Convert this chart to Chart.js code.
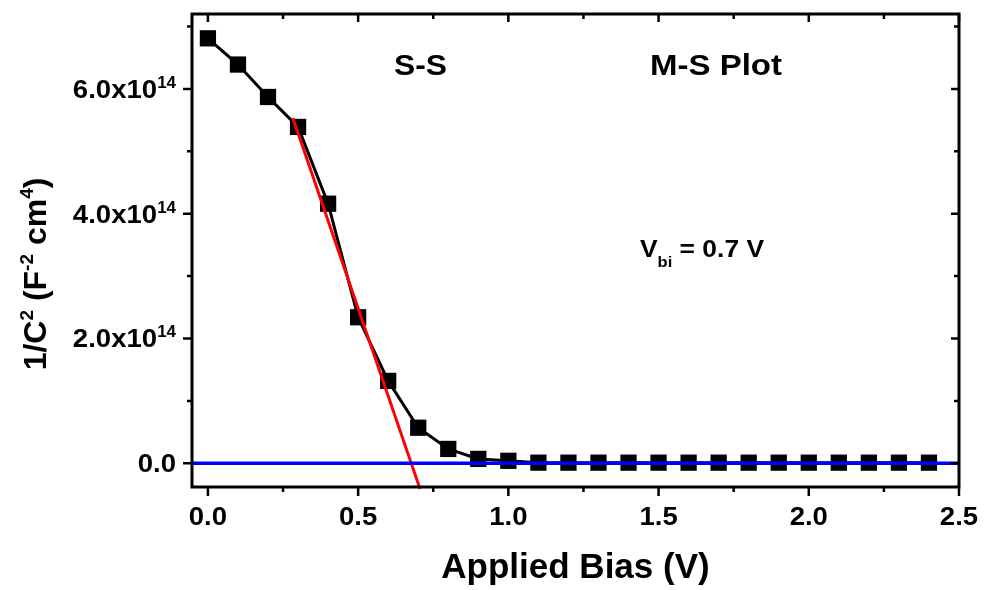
<!DOCTYPE html>
<html>
<head>
<meta charset="utf-8">
<script src="https://cdn.jsdelivr.net/npm/chart.js@4.4.1/dist/chart.umd.min.js"></script>
<style>
body{margin:0;background:#fff}
</style>
</head>
<body>
<canvas id="myChart" width="985" height="590"></canvas>
<script>
// applied bias (V) and 1/C^2 (F^-2 cm^4)
var bias=[0,0.1,0.2,0.3,0.4,0.5,0.6,0.7,0.8,0.9,1.0,1.1,1.2,1.3,1.4,1.5,1.6,1.7,1.8,1.9,2.0,2.1,2.2,2.3,2.4]
var invC2=[6.81e14,6.39e14,5.87e14,5.39e14,4.16e14,2.34e14,1.32e14,0.57e14,0.23e14,0.07e14,0.04e14,0.01e14,0.01e14,0.01e14,0.01e14,0.01e14,0.01e14,0.01e14,0.01e14,0.01e14,0.01e14,0.01e14,0.01e14,0.01e14,0.01e14]

// linear fit (red) and zero line (blue)
var fitX=[0.283,0.706]
var fitY=[5.53e14,-0.41e14]
var zeroX=[-0.053,2.5]
var zeroY=[0,0]

// axes
var xMin=-0.053, xMax=2.5
var yMin=-0.38e14, yMax=7.2e14
var xMajor=[0,0.5,1.0,1.5,2.0,2.5]
var xMinor=[0.25,0.75,1.25,1.75,2.25]
var xTickLabels=['0.0','0.5','1.0','1.5','2.0','2.5']
var yMajor=[0,2e14,4e14,6e14]
var yMinor=[1e14,3e14,5e14,7e14]
var yTickLabels=['0.0','2.0x10','4.0x10','6.0x10']
var yTickExp=['','14','14','14']

function pts(xs,ys){
    var out=[]
    for(var i=0;i<xs.length;i++) out.push({x:xs[i],y:ys[i]})
    return out
}

function fnt(s){ return 'bold '+s+'px "Liberation Sans", Arial, sans-serif' }

// parts: [text, size, dy]
function richWidth(ctx,parts,st){
    var w=0
    parts.forEach(function(p){ ctx.font=fnt(p[1]); w+=ctx.measureText(p[0]).width*st })
    return w
}
function drawRich(ctx,parts,x,y,align,st,rot){
    st=st||1
    ctx.save()
    ctx.translate(x,y)
    if(rot) ctx.rotate(rot)
    var w=richWidth(ctx,parts,st)
    var cx=0
    if(align=='center') cx=-w/2
    if(align=='right') cx=-w
    ctx.fillStyle='#000'
    ctx.textBaseline='alphabetic'
    ctx.textAlign='left'
    parts.forEach(function(p){
        ctx.font=fnt(p[1])
        ctx.save()
        ctx.translate(cx,p[2]||0)
        ctx.scale(st,1)
        ctx.fillText(p[0],0,0)
        ctx.restore()
        cx+=ctx.measureText(p[0]).width*st
    })
    ctx.restore()
}

var framePlugin={
    id:'frame',
    afterDatasetsDraw:function(chart){
        var ctx=chart.ctx, a=chart.chartArea
        var xs=chart.scales.x, ys=chart.scales.y
        ctx.save()
        ctx.strokeStyle='#000'
        ctx.lineWidth=3
        ctx.strokeRect(a.left,a.top,a.right-a.left,a.bottom-a.top)
        ctx.lineWidth=2.5
        ctx.beginPath()
        xMajor.forEach(function(v){
            var px=xs.getPixelForValue(v)
            ctx.moveTo(px,a.bottom); ctx.lineTo(px,a.bottom+9)
            ctx.moveTo(px,a.top); ctx.lineTo(px,a.top+8)
        })
        xMinor.forEach(function(v){
            var px=xs.getPixelForValue(v)
            ctx.moveTo(px,a.bottom); ctx.lineTo(px,a.bottom+5)
            ctx.moveTo(px,a.top); ctx.lineTo(px,a.top+5)
        })
        yMajor.forEach(function(v){
            var py=ys.getPixelForValue(v)
            ctx.moveTo(a.left,py); ctx.lineTo(a.left-9,py)
            ctx.moveTo(a.right,py); ctx.lineTo(a.right-8,py)
        })
        yMinor.forEach(function(v){
            var py=ys.getPixelForValue(v)
            ctx.moveTo(a.left,py); ctx.lineTo(a.left-5,py)
            ctx.moveTo(a.right,py); ctx.lineTo(a.right-5,py)
        })
        ctx.stroke()
        ctx.restore()
    },
    afterDraw:function(chart){
        var ctx=chart.ctx, a=chart.chartArea
        var xs=chart.scales.x, ys=chart.scales.y
        var st=1.06
        // tick labels
        xMajor.forEach(function(v,i){
            drawRich(ctx,[[xTickLabels[i],26]],xs.getPixelForValue(v),a.bottom+38,'center',st)
        })
        yMajor.forEach(function(v,i){
            var parts=[[yTickLabels[i],26]]
            if(yTickExp[i]) parts.push([yTickExp[i],16,-10])
            drawRich(ctx,parts,a.left-16,ys.getPixelForValue(v)+9,'right',st)
        })
        // axis titles
        drawRich(ctx,[['Applied Bias (V)',35]],(a.left+a.right)/2,578,'center',1)
        drawRich(ctx,[['1/C',32],['2',19,-13],[' (F',32],['-2',19,-13],[' cm',32],['4',19,-13],[')',32]],46,274,'center',1,-Math.PI/2)
        // annotations
        drawRich(ctx,[['S-S',30]],394,75,'left',st)
        drawRich(ctx,[['M-S Plot',30]],650,75,'left',1.1)
        drawRich(ctx,[['V',24],['bi',15,10],[' = 0.7 V',24]],640,257,'left',1.1)
    }
}

var myChart=document.getElementById('myChart').getContext('2d')
var chart=new Chart(myChart,{
    type:'scatter',
    data:{
        datasets:[
            {
                label:'zero',
                data:pts(zeroX,zeroY),
                showLine:true,
                borderColor:'#0000ff',
                borderWidth:3.5,
                pointRadius:0,
                clip:4
            },
            {
                label:'fit',
                data:pts(fitX,fitY),
                showLine:true,
                borderColor:'#ff0000',
                borderWidth:3,
                pointRadius:0,
                clip:4
            },
            {
                label:'M-S',
                data:pts(bias,invC2),
                showLine:true,
                borderColor:'#000',
                borderWidth:3,
                pointStyle:'rect',
                pointRadius:11.5,
                pointBackgroundColor:'#000',
                pointBorderWidth:0
            }
        ]
    },
    options:{
        responsive:false,
        animation:false,
        layout:{padding:{top:14,right:26,left:0,bottom:0}},
        plugins:{legend:{display:false},tooltip:{enabled:false}},
        scales:{
            x:{
                type:'linear',min:xMin,max:xMax,
                grid:{display:false},border:{display:false},
                ticks:{display:false},
                afterFit:function(s){ s.height=103 }
            },
            y:{
                type:'linear',min:yMin,max:yMax,
                grid:{display:false},border:{display:false},
                ticks:{display:false},
                afterFit:function(s){ s.width=192 }
            }
        }
    },
    plugins:[framePlugin]
})
</script>
</body>
</html>
